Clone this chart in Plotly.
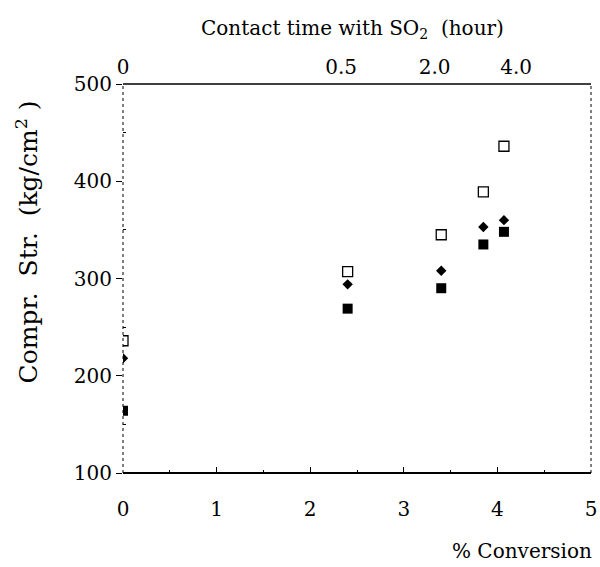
import plotly.graph_objects as go

conversion = [0, 2.4, 3.4, 3.85, 4.07]
open_sq = [236, 307, 345, 389, 436]
diamond = [218, 294, 308, 353, 360]
filled_sq = [164, 269, 290, 335, 348]

top_tick_pos = [0, 2.33, 3.33, 4.2]
top_tick_text = ["0", "0.5", "2.0", "4.0"]

FONT = "DejaVu Serif"
FS = 20

fig = go.Figure()
fig.add_trace(go.Scatter(x=conversion, y=open_sq, mode="markers",
                         marker=dict(symbol="square-open", size=10, color="black", line=dict(width=1.3))))
fig.add_trace(go.Scatter(x=conversion, y=diamond, mode="markers",
                         marker=dict(symbol="diamond", size=8, color="black")))
fig.add_trace(go.Scatter(x=conversion, y=filled_sq, mode="markers",
                         marker=dict(symbol="square", size=10, color="black")))
fig.add_trace(go.Scatter(x=[None], y=[None], xaxis="x2", showlegend=False))

fig.update_layout(
    width=600, height=567,
    margin=dict(l=123, r=3, t=84, b=94),
    paper_bgcolor="white", plot_bgcolor="white",
    showlegend=False,
    font=dict(family=FONT, size=FS, color="black"),
    xaxis=dict(range=[0, 5], tickvals=[0, 1, 2, 3, 4, 5], ticks="inside", ticklen=6,
               tickcolor="black", showgrid=False, zeroline=False, showline=False,
               minor=dict(tickvals=[0.5, 1.5, 2.5, 3.5, 4.5], ticks="inside", ticklen=3, tickcolor="black"),
               tickfont=dict(size=FS), ticklabelstandoff=22, ticklabeloverflow="allow"),
    xaxis2=dict(range=[0, 5], overlaying="x", side="top", tickvals=top_tick_pos,
                ticktext=top_tick_text, ticks="", showgrid=False, zeroline=False,
                showline=False, tickfont=dict(size=FS), ticklabelstandoff=5,
                ticklabeloverflow="allow"),
    yaxis=dict(range=[100, 500], tickvals=[100, 200, 300, 400, 500], ticks="outside",
               ticklen=6, tickcolor="black", showgrid=False, zeroline=False, showline=False,
               minor=dict(tickvals=[150, 250, 350, 450], ticks="inside", ticklen=3, tickcolor="black"),
               tickfont=dict(size=FS)),
)

# frame
fig.add_shape(type="line", xref="paper", yref="paper", x0=0, x1=1, y0=1, y1=1,
              line=dict(color="black", width=1.5))
fig.add_shape(type="line", xref="paper", yref="paper", x0=0, x1=1, y0=0, y1=0,
              line=dict(color="black", width=2))
fig.add_shape(type="line", xref="paper", yref="paper", x0=0, x1=0, y0=0, y1=1,
              line=dict(color="black", width=1, dash="dot"))
fig.add_shape(type="line", xref="paper", yref="paper", x0=1, x1=1, y0=0, y1=1,
              line=dict(color="black", width=1, dash="dot"))

fig.add_annotation(text="Contact time with SO<sub>2</sub>  (hour)", xref="paper", yref="paper",
                   x=0.49, y=1, yshift=70, showarrow=False, font=dict(size=20))
fig.add_annotation(text="% Conversion", xref="paper", yref="paper",
                   x=1, xanchor="right", xshift=3, y=0, yshift=-92, showarrow=False, font=dict(size=FS))
fig.add_annotation(text="Compr.  Str.  (kg/cm<sup>2</sup> )", xref="paper", yref="paper",
                   x=0, xshift=-114, y=0.594, textangle=-90, showarrow=False, font=dict(size=25))

fig.write_html("out.html", config={"displayModeBar": False},
               post_script="document.body.style.margin='0px';")
